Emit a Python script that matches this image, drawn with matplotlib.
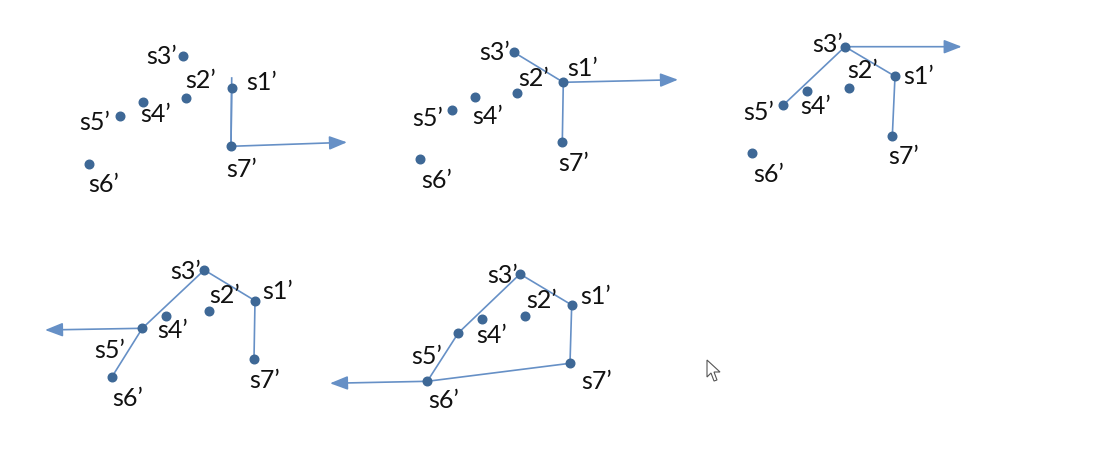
import matplotlib
matplotlib.use("Agg")
import matplotlib.pyplot as plt
from matplotlib.patches import Polygon

# ---- data: point positions (pixel space) for each of the 5 steps ----
names = ["s1\u2019", "s2\u2019", "s3\u2019", "s4\u2019", "s5\u2019", "s6\u2019", "s7\u2019"]

pts1 = [(231.7, 88.7), (185.7, 99.0), (182.7, 56.7), (143.3, 102.7), (120.0, 116.7), (89.0, 165.0), (231.0, 147.3)]
pts2 = [(563.3, 83.3), (516.7, 94.3), (514.0, 53.3), (475.0, 98.3), (451.7, 111.0), (420.0, 160.0), (562.3, 143.3)]
pts3 = [(895.0, 77.3), (849.0, 89.0), (845.0, 47.7), (806.7, 92.3), (783.3, 106.0), (751.7, 154.3), (892.3, 137.3)]
pts4 = [(255.0, 301.7), (209.0, 311.7), (204.3, 271.0), (166.0, 316.7), (142.3, 329.3), (111.7, 378.3), (254.0, 360.0)]
pts5 = [(571.7, 306.0), (525.0, 316.7), (520.0, 275.0), (482.3, 320.0), (458.3, 334.0), (427.3, 382.3), (570.0, 364.3)]

lbl1 = [(262, 82), (201, 81), (162, 56), (156, 114), (95, 123), (104, 185), (242, 170)]
lbl2 = [(583, 69), (534, 79), (495, 52), (488, 116), (428, 119), (437, 181), (574, 164)]
lbl3 = [(919, 77), (863, 71), (828, 45), (816, 107), (759, 113), (769, 175), (904, 157)]
lbl4 = [(278, 292), (225, 296), (186, 272), (173, 331), (110, 351), (128, 399), (265, 381)]
lbl5 = [(596, 297), (542, 301), (503, 276), (492, 336), (427, 357), (444, 401), (597, 382)]

# hull edges (indices into point list) and arrow (from index, tip)
edges1 = [(6, 0)]
edges2 = [(2, 0), (0, 6)]
edges3 = [(4, 2), (2, 0), (0, 6)]
edges4 = [(5, 4), (4, 2), (2, 0), (0, 6)]
edges5 = [(5, 4), (4, 2), (2, 0), (0, 6), (6, 5)]

arrow1 = (6, (347.0, 143.3))
arrow2 = (0, (678.0, 80.7))
arrow3 = (2, (961.7, 47.7))
arrow4 = (4, (45.0, 331.0))
arrow5 = (5, (330.0, 384.3))

cursor = [(707, 361), (707, 378), (711, 374), (714, 382), (717, 381), (714, 373), (720, 373)]

panels = [
    (pts1, lbl1, edges1, arrow1),
    (pts2, lbl2, edges2, arrow2),
    (pts3, lbl3, edges3, arrow3),
    (pts4, lbl4, edges4, arrow4),
    (pts5, lbl5, edges5, arrow5),
]

DOT = "#3e6896"
LINE = "#6690c6"

fig = plt.figure(figsize=(11.10, 4.77), dpi=100)
ax = fig.add_axes([0, 0, 1, 1])
ax.set_xlim(0, 1110)
ax.set_ylim(477, 0)
ax.axis("off")

for pts, lbls, edges, arrow in panels:
    for a, b in edges:
        ax.plot([pts[a][0], pts[b][0]], [pts[a][1], pts[b][1]], color=LINE, lw=1.2,
                solid_capstyle="round", zorder=2)
    i0, tip = arrow
    ax.annotate("", xy=tip, xytext=pts[i0],
                arrowprops=dict(arrowstyle="-|>,head_length=0.9,head_width=0.35",
                                color=LINE, lw=1.2, shrinkA=0, shrinkB=0,
                                mutation_scale=12), zorder=2)
    xs = [p[0] for p in pts]
    ys = [p[1] for p in pts]
    ax.plot(xs, ys, "o", color=DOT, ms=6.2, mec=DOT, zorder=3)
    for name, (lx, ly) in zip(names, lbls):
        ax.text(lx, ly, name, fontsize=18, family=["Lato", "DejaVu Sans"],
                ha="center", va="center", color="#111111", zorder=4)

# extra vertical line remnant above s1' in step 1
ax.plot([pts1[6][0], pts1[0][0]], [pts1[6][1], 79.0], color=LINE, lw=1.2, zorder=2)

ax.add_patch(Polygon(cursor, closed=True, facecolor="white", edgecolor="#555555", lw=0.8, zorder=5))

fig.savefig("out.png", dpi=100)
